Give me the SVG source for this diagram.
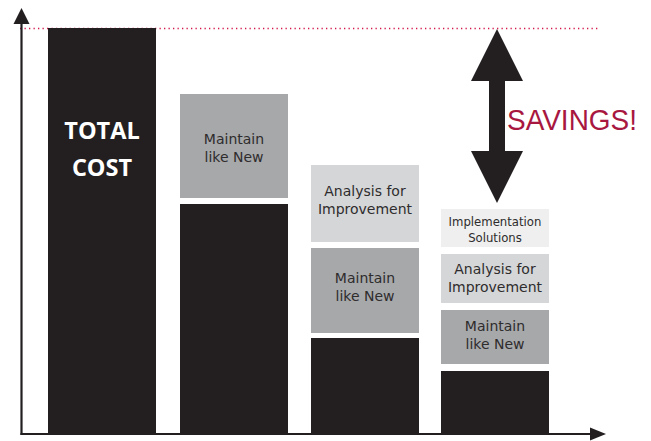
<svg xmlns="http://www.w3.org/2000/svg" width="651" height="441" viewBox="0 0 651 441">
<style>
.blk{fill:#231f20}
.mid{fill:#a7a8aa}
.lt{fill:#d5d6d8}
.xlt{fill:#efefef}
.lbl{font-family:"DejaVu Sans","Open Sans","Liberation Sans",sans-serif;font-size:14px;fill:#2e2c2d;text-anchor:middle}
.sm{font-size:11.7px}
.big{font-family:"Open Sans","Noto Sans","Liberation Sans",sans-serif;font-size:23.5px;font-weight:bold;fill:#ffffff;text-anchor:middle}
.sav{font-family:"Liberation Sans","DejaVu Sans",sans-serif;font-size:30px;fill:#a8173f}
</style>
<rect width="651" height="441" fill="#ffffff"/>
<g id="target-line">
<line x1="20" y1="28.5" x2="600" y2="28.5" stroke="#d2194a" stroke-width="1.3" stroke-dasharray="1.3 3.2"/>
</g>
<g id="bar1">
<rect class="blk" x="48" y="28" width="108" height="406"/>
<text class="big" x="102" y="139">TOTAL</text>
<text class="big" x="102" y="176">COST</text>
</g>
<g id="bar2">
<rect class="mid" x="180" y="94" width="108" height="104"/>
<text class="lbl" x="234" y="144">Maintain</text>
<text class="lbl" x="234" y="161.5">like New</text>
<rect class="blk" x="180" y="204" width="108" height="230"/>
</g>
<g id="bar3">
<rect class="lt" x="311" y="165" width="108" height="77"/>
<text class="lbl" x="365" y="196">Analysis for</text>
<text class="lbl" x="365" y="213.5">Improvement</text>
<rect class="mid" x="311" y="248" width="108" height="85"/>
<text class="lbl" x="365" y="282.5">Maintain</text>
<text class="lbl" x="365" y="300.5">like New</text>
<rect class="blk" x="311" y="338" width="108" height="96"/>
</g>
<g id="bar4">
<rect class="xlt" x="441" y="209" width="108" height="38"/>
<text class="lbl sm" x="495" y="225.5">Implementation</text>
<text class="lbl sm" x="495" y="241.5">Solutions</text>
<rect class="lt" x="441" y="254" width="108" height="49"/>
<text class="lbl" x="495" y="274">Analysis for</text>
<text class="lbl" x="495" y="291.5">Improvement</text>
<rect class="mid" x="441" y="310" width="108" height="54"/>
<text class="lbl" x="495" y="331">Maintain</text>
<text class="lbl" x="495" y="349">like New</text>
<rect class="blk" x="441" y="371" width="108" height="63"/>
</g>
<g id="savings">
<polygon class="blk" points="497,29 523,81 505,81 505,151 523,151 497,203 471,151 489,151 489,81 471,81"/>
<text class="sav" x="507" y="130" textLength="130" lengthAdjust="spacingAndGlyphs">SAVINGS!</text>
</g>
<g id="axes">
<line x1="21.5" y1="22" x2="21.5" y2="435" stroke="#231f20" stroke-width="2.2"/>
<polygon class="blk" points="21.5,8 29.5,24 13.5,24"/>
<line x1="20.5" y1="434" x2="592" y2="434" stroke="#231f20" stroke-width="2.2"/>
<polygon class="blk" points="606,434 590,427.5 590,440.5"/>
</g>
</svg>
